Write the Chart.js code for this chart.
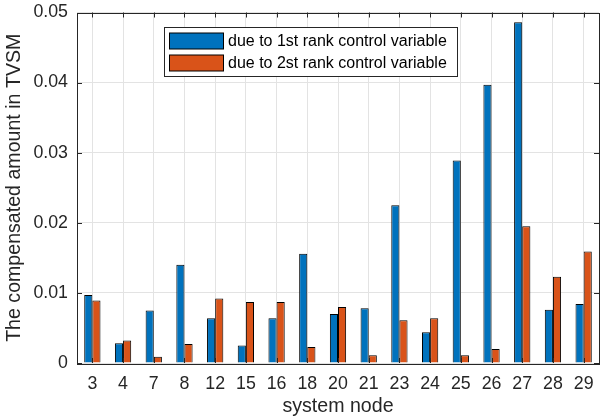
<!DOCTYPE html>
<html>
<head>
<meta charset="utf-8">
<script src="https://cdn.jsdelivr.net/npm/chart.js@4"></script>
<style>
  html, body { margin: 0; padding: 0; background: #fff; }
  #wrap { width: 602px; height: 419px; }
</style>
</head>
<body>
<div id="wrap"><canvas id="c" width="602" height="419"></canvas></div>
<script>
const nodes = ["3", "4", "7", "8", "12", "15", "16", "18", "20", "21", "23", "24", "25", "26", "27", "28", "29"];
const firstRank = [0.0097, 0.0028, 0.0075, 0.0140, 0.0064, 0.0025, 0.0064, 0.0156, 0.0070, 0.0078, 0.0225, 0.0044, 0.0289, 0.0397, 0.0486, 0.0076, 0.0084];
const secondRank = [0.0089, 0.0032, 0.0009, 0.0027, 0.0092, 0.0087, 0.0087, 0.0023, 0.0080, 0.0011, 0.0061, 0.0064, 0.0011, 0.0020, 0.0195, 0.0123, 0.0159];
const seriesNames = ["due to 1st rank control variable", "due to 2st rank control variable"];

const AXIS = "#262626";
const FONT = "'Liberation Sans', Arial, sans-serif";

// box around the axes with inward ticks on all four sides
const boxPlugin = {
  id: "box",
  afterDatasetsDraw(chart) {
    const { ctx, chartArea: a, scales } = chart;
    ctx.save();
    ctx.strokeStyle = AXIS;
    ctx.lineWidth = 1;
    ctx.beginPath();
    const len = 5;
    scales.x.ticks.forEach((t, i) => {
      const x = Math.round(scales.x.getPixelForTick(i)) + 0.5;
      ctx.moveTo(x, a.bottom); ctx.lineTo(x, a.bottom - len);
      ctx.moveTo(x, a.top); ctx.lineTo(x, a.top + len);
    });
    scales.y.ticks.forEach((t, i) => {
      const y = Math.round(scales.y.getPixelForTick(i)) + 0.5;
      ctx.moveTo(a.left, y); ctx.lineTo(a.left + len, y);
      ctx.moveTo(a.right, y); ctx.lineTo(a.right - len, y);
    });
    ctx.stroke();
    ctx.strokeRect(Math.round(a.left) + 0.5, Math.round(a.top) + 0.5,
      Math.round(a.right - a.left), Math.round(a.bottom - a.top));
    ctx.restore();
  }
};

// legend box placed inside the axes
const legendPlugin = {
  id: "boxLegend",
  afterDraw(chart) {
    const { ctx } = chart;
    const x0 = 164.5, y0 = 27.5, w = 293, h = 49;
    ctx.save();
    ctx.fillStyle = "#fff";
    ctx.fillRect(x0, y0, w, h);
    ctx.strokeStyle = AXIS;
    ctx.lineWidth = 1;
    ctx.strokeRect(x0, y0, w, h);
    ctx.font = "16px " + FONT;
    ctx.textBaseline = "middle";
    chart.data.datasets.forEach((ds, i) => {
      const cy = y0 + 13.5 + i * 22;
      ctx.fillStyle = ds.backgroundColor;
      ctx.fillRect(x0 + 5, cy - 8, 54, 16);
      ctx.strokeStyle = "#000";
      ctx.strokeRect(x0 + 5, cy - 8, 54, 16);
      ctx.fillStyle = "#000";
      ctx.fillText(ds.label, x0 + 63.5, cy + 1);
    });
    ctx.restore();
  }
};

new Chart(document.getElementById("c"), {
  type: "bar",
  data: {
    labels: nodes,
    datasets: [
      { label: seriesNames[0], data: firstRank, backgroundColor: "#0072BD", borderColor: "#000", borderWidth: 1 },
      { label: seriesNames[1], data: secondRank, backgroundColor: "#D95319", borderColor: "#000", borderWidth: 1 }
    ]
  },
  options: {
    responsive: false,
    animation: false,
    layout: { padding: { left: 0, right: 3, top: 12.5, bottom: 0 } },
    datasets: { bar: { categoryPercentage: 0.53, barPercentage: 1 } },
    plugins: { legend: { display: false }, tooltip: { enabled: false } },
    scales: {
      x: {
        grid: { color: "#e3e3e3", drawTicks: false, offset: false },
        border: { display: false },
        ticks: { color: AXIS, font: { family: FONT, size: 17.8 }, padding: 10, maxRotation: 0, autoSkip: false },
        title: { display: true, text: "system node", color: AXIS, font: { family: FONT, size: 19.6 }, padding: { top: 0, bottom: 1 } },
        afterFit(s) { s.height = 56; s.paddingLeft = 0; s.paddingRight = 0; }
      },
      y: {
        min: 0, max: 0.05,
        grid: { color: "#e3e3e3", drawTicks: false },
        border: { display: false },
        ticks: {
          stepSize: 0.01, color: AXIS, font: { family: FONT, size: 17.8 }, padding: 9,
          callback: v => v === 0 ? "0" : v.toFixed(2)
        },
        title: { display: true, text: "The compensated amount in TVSM", color: AXIS, font: { family: FONT, size: 19.6 }, padding: { top: 3, bottom: 0 } },
        afterFit(s) { s.width = 77; s.paddingTop = 0; s.paddingBottom = 0; }
      }
    }
  },
  plugins: [boxPlugin, legendPlugin]
});
</script>
</body>
</html>
